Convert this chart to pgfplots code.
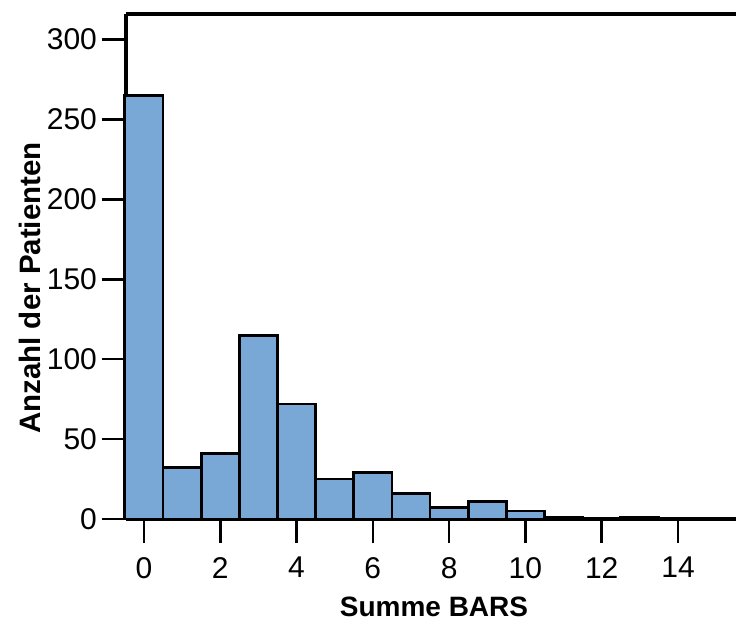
\documentclass[border=0pt]{standalone}
\usepackage{pgfplots}
\pgfplotsset{compat=1.18}
\usepackage{fontspec}
\setmainfont{Liberation Sans}
\definecolor{barfill}{RGB}{122,168,214}
\begin{document}
\begin{tikzpicture}
\begin{axis}[
  scale only axis, width=305pt, height=252.5pt,
  xmin=-0.47, xmax=15.52, ymin=0, ymax=316,
  axis x line=bottom, axis y line=left,
  axis line style={-, line width=1.6pt},
  xtick={0,2,...,14}, ytick={0,50,...,300},
  tick align=outside, major tick length=12pt,
  tick style={line width=1.3pt, black},
  /pgf/number format/assume math mode=true,
  ticklabel style={font=\fontsize{15}{18}\selectfont},
  xticklabel style={yshift=-3.5pt},
  yticklabel style={xshift=1pt},
  clip=false,
]
\addplot[ybar, bar width=1, bar shift=0pt, fill=barfill, draw=black, line width=1.4pt]
  coordinates {(0,265) (1,32) (2,41) (3,115) (4,72) (5,25) (6,29) (7,16) (8,7) (9,11) (10,5) (11,1) (12,0) (13,1)};
\draw[line width=1.6pt] (rel axis cs:0,1) -- (rel axis cs:1,1);
\coordinate (sw) at (rel axis cs:0,0);
\coordinate (ne) at (rel axis cs:1,1);
\end{axis}
\node[font=\bfseries\fontsize{14}{16}\selectfont, anchor=center] at ([shift={(154pt,-44pt)}]sw) {Summe BARS};
\node[font=\bfseries\fontsize{14.75}{16}\selectfont, anchor=center, rotate=90] at ([shift={(-48pt,115.5pt)}]sw) {Anzahl der Patienten};
\pgfresetboundingbox
\path[use as bounding box] ([shift={(-63pt,-53.5pt)}]sw) rectangle ([shift={(0pt,7pt)}]ne);
\end{tikzpicture}
\end{document}
